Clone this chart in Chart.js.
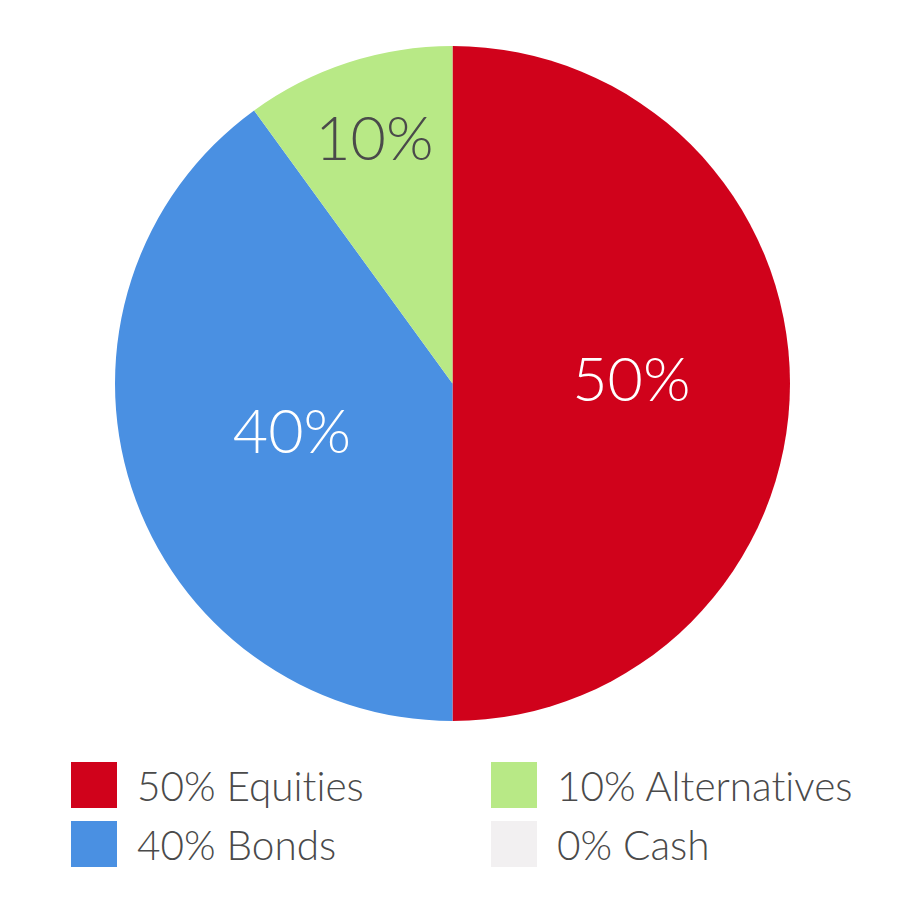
<!DOCTYPE html>
<html>
<head>
<meta charset="utf-8">
<script src="https://cdn.jsdelivr.net/npm/chart.js@4/dist/chart.umd.min.js"></script>
<style>
    html, body { margin: 0; padding: 0; background: #fff; }
    body { width: 914px; height: 899px; position: relative; overflow: hidden; font-family: Lato, 'Open Sans', sans-serif; }
    .pie { position: absolute; left: 115px; top: 46px; width: 675px; height: 675px; }
    .legend { position: absolute; left: 71px; top: 762px; display: grid; grid-template-columns: 420px 420px; row-gap: 13px; }
    .item { display: flex; align-items: center; height: 46px; color: #4a4a4a; font-size: 40.5px; font-weight: 300; white-space: nowrap; font-variant-ligatures: none; }
    .box { width: 46px; height: 46px; margin-right: 20px; flex: none; }
</style>
</head>
<body>
<div class="pie"><canvas id="chart"></canvas></div>
<div class="legend" id="legend"></div>
<script>
const categories = ['Equities', 'Bonds', 'Alternatives', 'Cash'];
const shares = [50, 40, 10, 0];
const colours = ['#d0021b', '#4a90e2', '#b8e986', '#f2f0f1'];
const labelColours = ['#ffffff', '#ffffff', '#4a4a4a', '#4a4a4a'];

// legend order: column-wise, two rows
const legendOrder = [0, 2, 1, 3];

const legend = document.getElementById('legend');
legendOrder.forEach(i => {
    const item = document.createElement('div');
    item.className = 'item';
    item.innerHTML = `<span class="box" style="background:${colours[i]}"></span>${shares[i]}% ${categories[i]}`;
    legend.appendChild(item);
});

// draws the percentage inside each slice, small slices further out
const sliceLabels = {
    id: 'sliceLabels',
    afterDatasetsDraw(chart) {
        const { ctx } = chart;
        const arcs = chart.getDatasetMeta(0).data;
        ctx.save();
        ctx.font = '300 61px Lato, sans-serif';
        ctx.textAlign = 'center';
        ctx.textBaseline = 'middle';
        arcs.forEach((arc, i) => {
            if (!shares[i]) {
                return;
            }
            const { x, y, startAngle, endAngle, outerRadius } = arc.getProps(['x', 'y', 'startAngle', 'endAngle', 'outerRadius'], true);
            const mid = (startAngle + endAngle) / 2;
            const r = outerRadius * (shares[i] < 15 ? 0.75 : shares[i] >= 50 ? 0.53 : 0.5);
            ctx.fillStyle = labelColours[i];
            ctx.fillText(shares[i] + '%', x + Math.cos(mid) * r, y + Math.sin(mid) * r - 2);
        });
        ctx.restore();
    }
};

new Chart(document.getElementById('chart'), {
    type: 'pie',
    data: {
        labels: categories,
        datasets: [{
            data: shares,
            backgroundColor: colours,
            borderWidth: 0
        }]
    },
    options: {
        responsive: true,
        maintainAspectRatio: false,
        animation: false,
        layout: { padding: 0 },
        plugins: {
            legend: { display: false },
            tooltip: { enabled: false }
        }
    },
    plugins: [sliceLabels]
});
</script>
</body>
</html>
